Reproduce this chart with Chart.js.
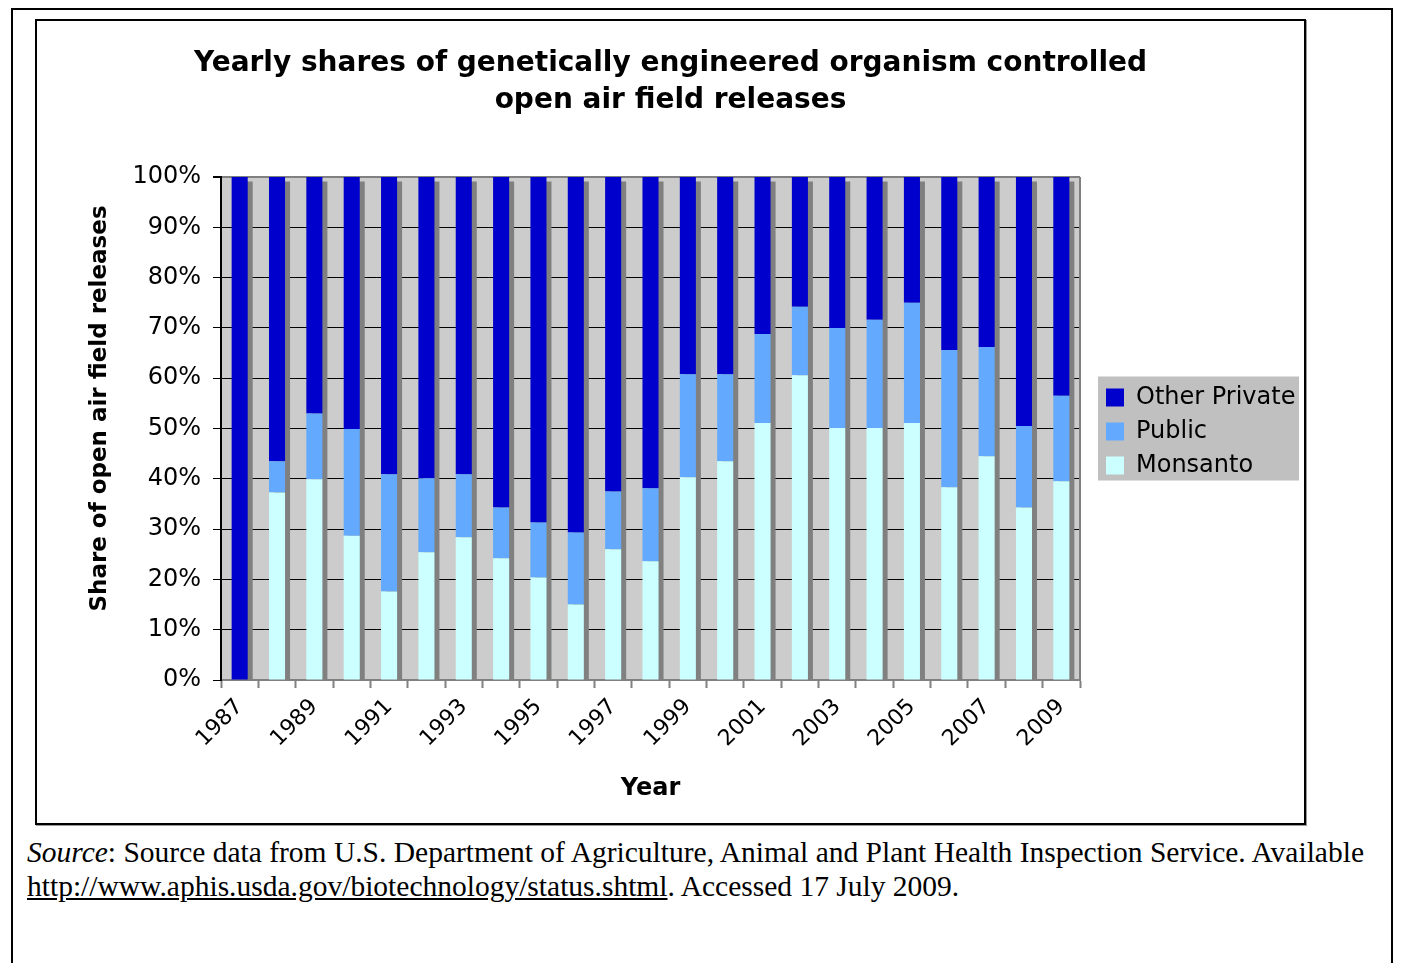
<!DOCTYPE html>
<html>
<head>
<meta charset="utf-8">
<script src="https://cdn.jsdelivr.net/npm/chart.js@4.4.1/dist/chart.umd.min.js"></script>
<style>
  body { margin: 0; background: #fff; }
  #frame { position: absolute; left: 11px; top: 8px; width: 1378px; height: 1000px;
           border: 2px solid #000; border-bottom: none; }
  #box { position: absolute; left: 35px; top: 19px; width: 1267px; height: 802px;
         border: 2px solid #000; box-shadow: 1px 1px 0 #999; }
  #box canvas { display: block; }
  #source { position: absolute; left: 27px; top: 835px; font-family: "Liberation Serif", "Times New Roman", serif;
            font-size: 29.5px; line-height: 34px; color: #000; white-space: nowrap; }
  #source a { color: #000; }
</style>
</head>
<body>
<div id="frame"></div>
<div id="box"><canvas id="myChart" width="1267" height="802"></canvas></div>
<div id="source"><i>Source</i>: Source data from U.S. Department of Agriculture, Animal and Plant Health Inspection Service. Available<br><a href="#">http://www.aphis.usda.gov/biotechnology/status.shtml</a>. Accessed 17 July 2009.</div>
<script>
// years on the x axis
var years = ['1987','1988','1989','1990','1991','1992','1993','1994','1995','1996','1997','1998',
             '1999','2000','2001','2002','2003','2004','2005','2006','2007','2008','2009'];

// shares in percent
var monsanto = [0, 37.3, 39.9, 28.7, 17.6, 25.4, 28.4, 24.2, 20.4, 15.0, 26.0, 23.6,
                40.3, 43.5, 51.1, 60.6, 50.1, 50.1, 51.1, 38.3, 44.5, 34.3, 39.5];
var publicShare = [0, 6.2, 13.1, 21.2, 23.3, 14.7, 12.5, 10.1, 10.9, 14.3, 11.5, 14.5,
                   20.5, 17.3, 17.7, 13.6, 19.9, 21.5, 23.9, 27.3, 21.7, 16.2, 17.0];
var otherPrivate = [100, 56.5, 47.0, 50.1, 59.1, 59.9, 59.1, 65.7, 68.7, 70.7, 62.5, 61.9,
                    39.2, 39.2, 31.2, 25.8, 30.0, 28.4, 25.0, 34.4, 33.8, 49.5, 43.5];

var yTicks = [0, 10, 20, 30, 40, 50, 60, 70, 80, 90, 100];

Chart.defaults.font.family = 'DejaVu Sans';
Chart.defaults.color = '#000';

/******************************************************/
// plot background, bar shadows, right border and legend box
var excelLook = {
    id: 'excelLook',
    afterLayout: function(chart) {
        // title centred on the whole box, not just inside the padding
        chart.titleBlock.right = chart.width;
        chart.titleBlock.width = chart.width - chart.titleBlock.left;
        // nudge legend right of the plot area and a little down
        chart.legend.left += 16;
        chart.legend.right += 16;
        chart.legend.top += 3;
        chart.legend.bottom += 3;
    },
    beforeDraw: function(chart) {
        var ctx = chart.ctx;
        var a = chart.chartArea;
        ctx.save();
        ctx.fillStyle = '#cccccc';
        ctx.fillRect(a.left, a.top, a.right - a.left, a.bottom - a.top);

        // legend background
        var hb = chart.legend.legendHitBoxes;
        if (hb && hb.length) {
            var l = Infinity, t = Infinity, b = -Infinity;
            hb.forEach(function(h) {
                l = Math.min(l, h.left); t = Math.min(t, h.top);
                b = Math.max(b, h.top + h.height);
            });
            ctx.fillStyle = '#c0c0c0';
            ctx.fillRect(l - 8, t - 9, 201, b - t + 12);
        }
        ctx.restore();
    },
    beforeDatasetsDraw: function(chart) {
        var ctx = chart.ctx;
        var y = chart.scales.y;
        var yTop = y.getPixelForValue(100), yBot = y.getPixelForValue(0);
        ctx.save();
        ctx.fillStyle = '#808080';
        chart.getDatasetMeta(0).data.forEach(function(bar) {
            ctx.fillRect(bar.x - bar.width / 2 + 5, yTop + 4.5, bar.width, yBot - yTop - 4.5);
        });
        // right border of plot area
        ctx.strokeStyle = '#808080';
        ctx.lineWidth = 2;
        ctx.beginPath();
        ctx.moveTo(chart.chartArea.right, chart.chartArea.top);
        ctx.lineTo(chart.chartArea.right, chart.chartArea.bottom);
        ctx.stroke();
        ctx.restore();
    }
};

var ctx = document.getElementById('myChart').getContext('2d');
var myChart = new Chart(ctx, {
    type: 'bar',
    data: {
        labels: years,
        datasets: [
            { label: 'Monsanto', data: monsanto, backgroundColor: '#ccffff' },
            { label: 'Public', data: publicShare, backgroundColor: '#63aaff' },
            { label: 'Other Private', data: otherPrivate, backgroundColor: '#0000cc' }
        ]
    },
    options: {
        responsive: false,
        animation: false,
        layout: { padding: { left: 0, right: 19, top: 0, bottom: 0 } },
        datasets: { bar: { barPercentage: 0.43, categoryPercentage: 1 } },
        plugins: {
            title: {
                display: true,
                text: ['Yearly shares of genetically engineered organism controlled', 'open air field releases'],
                font: { size: 28, weight: 'bold', lineHeight: 37 / 28 },
                padding: { top: 24.5, bottom: 57.5 },
                color: '#000'
            },
            legend: {
                position: 'right',
                fullSize: false,
                reverse: true,
                maxWidth: 205,
                labels: {
                    boxWidth: 18,
                    boxHeight: 18,
                    padding: 10,
                    font: { size: 24 },
                    color: '#000'
                }
            },
            tooltip: { enabled: false }
        },
        scales: {
            x: {
                stacked: true,
                afterFit: function(scale) { scale.height = 143; },
                grid: { drawOnChartArea: false, tickLength: 8, tickColor: '#808080', tickWidth: 2 },
                border: { color: '#808080', width: 2 },
                ticks: {
                    autoSkip: false,
                    minRotation: 45,
                    maxRotation: 45,
                    padding: 6,
                    font: { size: 22 },
                    callback: function(value, index) {
                        return index % 2 === 0 ? years[index] : '';
                    }
                },
                title: {
                    display: true,
                    text: 'Year',
                    font: { size: 24, weight: 'bold' },
                    padding: { top: 0, bottom: 19.6 }
                }
            },
            y: {
                stacked: true,
                min: 0,
                max: 100,
                afterFit: function(scale) { scale.width = 184; },
                afterBuildTicks: function(scale) {
                    scale.ticks = yTicks.map(function(v) { return { value: v }; });
                },
                grid: {
                    color: function(c) { return c.tick && c.tick.value === 100 ? '#808080' : '#000'; },
                    lineWidth: function(c) { return c.tick && c.tick.value === 100 ? 2 : 1; },
                    tickLength: 8,
                    tickColor: '#000'
                },
                border: { color: '#000', width: 2 },
                ticks: {
                    padding: 12,
                    font: { size: 24 },
                    callback: function(v) { return v + '%'; }
                },
                title: {
                    display: true,
                    text: '     Share of open air field releases',
                    font: { size: 23, weight: 'bold' },
                    padding: { top: 49.2, bottom: 0 }
                }
            }
        }
    },
    plugins: [excelLook]
});
</script>
</body>
</html>
